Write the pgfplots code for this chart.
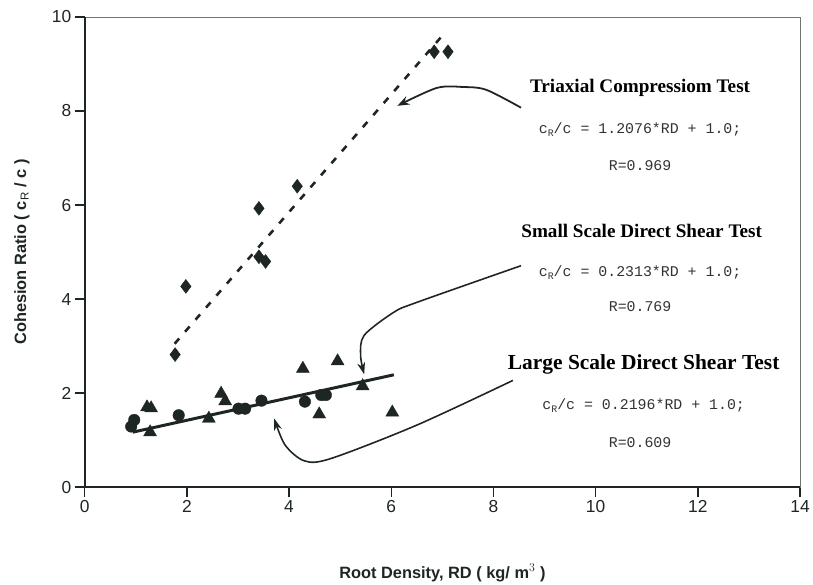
\documentclass[border=0pt]{standalone}
\usepackage{fontspec}
\setmainfont{Liberation Sans}
\newfontfamily\tnr{Liberation Serif}
\newfontfamily\cour{Liberation Mono}
\usepackage{pgfplots}
\pgfplotsset{compat=1.18}
\usetikzlibrary{arrows.meta}
\definecolor{ink}{RGB}{30,38,36}

% annotation text styles
\newcommand{\ttl}[1]{{\tnr\bfseries\fontsize{19.3}{19}\selectfont #1}}
\newcommand{\eqn}[1]{{\cour\fontsize{15}{15}\selectfont\color{black!80}#1}}
\newcommand{\cR}{c\raisebox{-0.35ex}{\fontsize{10}{10}\selectfont R}}

\begin{document}
\begin{tikzpicture}
\begin{axis}[
  at={(0,0)}, anchor=south west,
  scale only axis, width=718bp, height=472bp,
  xmin=0, xmax=14, ymin=0, ymax=10,
  xtick={0,2,...,14}, ytick={0,2,...,10},
  xtick pos=bottom, ytick pos=left,
  tick align=outside, major tick length=10bp,
  tick style={ink, line width=1.4pt},
  axis line style={black!55, line width=0.6pt},
  /pgf/number format/assume math mode=true,
  ticklabel style={font=\fontsize{17.5}{17}\selectfont, text=ink},
  xlabel={Root Density, RD ( kg/ m$^{3}$ )},
  ylabel={Cohesion Ratio (  c$_{\mathrm{R}}$ / c  )},
  xlabel style={font=\fontsize{16.5}{17}\selectfont\bfseries, text=ink,
    at={(axis description cs:0.5,0)}, anchor=center, yshift=-86bp},
  ylabel style={font=\fontsize{16.5}{17}\selectfont\bfseries, text=ink,
    at={(axis description cs:0,0.5)}, anchor=center, yshift=63bp},
  clip=false,
]
% heavy left and bottom axis lines
\draw[ink, line width=2.2pt] (rel axis cs:0,1) -- (rel axis cs:0,0) -- (rel axis cs:1,0);

% Triaxial compression test
\addplot[only marks, mark=diamond*, mark size=7bp, ink] coordinates {
  (1.77,2.82) (1.98,4.27) (3.41,5.93) (3.41,4.90) (3.54,4.80)
  (4.16,6.40) (6.84,9.26) (7.11,9.26)};
\addplot[ink, line width=2.6pt, dash pattern=on 7bp off 9bp] coordinates {(1.76,3.05) (7.07,9.69)};

% small scale direct shear (triangles)
\addplot[only marks, mark=triangle*, mark size=7.5bp, ink] coordinates {
  (1.22,1.70) (1.30,1.68) (1.28,1.17) (2.43,1.46) (2.67,1.99) (2.75,1.83)
  (4.27,2.52) (4.95,2.68) (5.44,2.15) (4.59,1.55) (6.02,1.59)};
% large scale direct shear (circles)
\addplot[only marks, mark=*, mark size=5.8bp, ink] coordinates {
  (0.91,1.29) (0.97,1.43) (1.84,1.53) (3.01,1.67) (3.14,1.67)
  (3.46,1.84) (4.31,1.82) (4.63,1.96) (4.72,1.96)};
\addplot[ink, line width=3pt] coordinates {(0.94,1.17) (6.05,2.39)};

% annotation arrows
\addplot[ink, line width=1.8pt, smooth, -{Stealth[length=12bp,width=9bp]}] coordinates {
  (8.54,8.07) (7.86,8.45) (7.41,8.51) (6.89,8.49) (6.12,8.11)};
\addplot[ink, line width=1.6pt, smooth, -{Stealth[length=12bp,width=8bp]}] coordinates {
  (8.54,4.71) (6.50,3.93) (6.05,3.72) (5.47,3.23) (5.40,2.80) (5.47,2.40)};
\addplot[ink, line width=1.6pt, smooth, -{Stealth[length=12bp,width=8bp]}] coordinates {
  (8.38,2.27) (6.50,1.32) (4.82,0.61) (4.30,0.56) (3.92,0.90) (3.71,1.46)};

% fit labels
\node at (axis cs:10.87,8.50) {\ttl{Triaxial Compressiom Test}};
\node at (axis cs:10.87,7.60) {\eqn{\cR/c = 1.2076*RD + 1.0;}};
\node at (axis cs:10.87,6.84) {\eqn{R=0.969}};
\node at (axis cs:10.90,5.45) {\ttl{Small Scale Direct Shear Test}};
\node at (axis cs:10.87,4.57) {\eqn{\cR/c = 0.2313*RD + 1.0;}};
\node at (axis cs:10.87,3.83) {\eqn{R=0.769}};
\node at (axis cs:10.94,2.61) {{\tnr\bfseries\fontsize{21.6}{21}\selectfont Large Scale Direct Shear Test}};
\node at (axis cs:10.94,1.73) {\eqn{\cR/c = 0.2196*RD + 1.0;}};
\node at (axis cs:10.87,0.95) {\eqn{R=0.609}};
\end{axis}
\path[use as bounding box] (-85bp,-94bp) rectangle (728bp,489bp);
\end{tikzpicture}
\end{document}
